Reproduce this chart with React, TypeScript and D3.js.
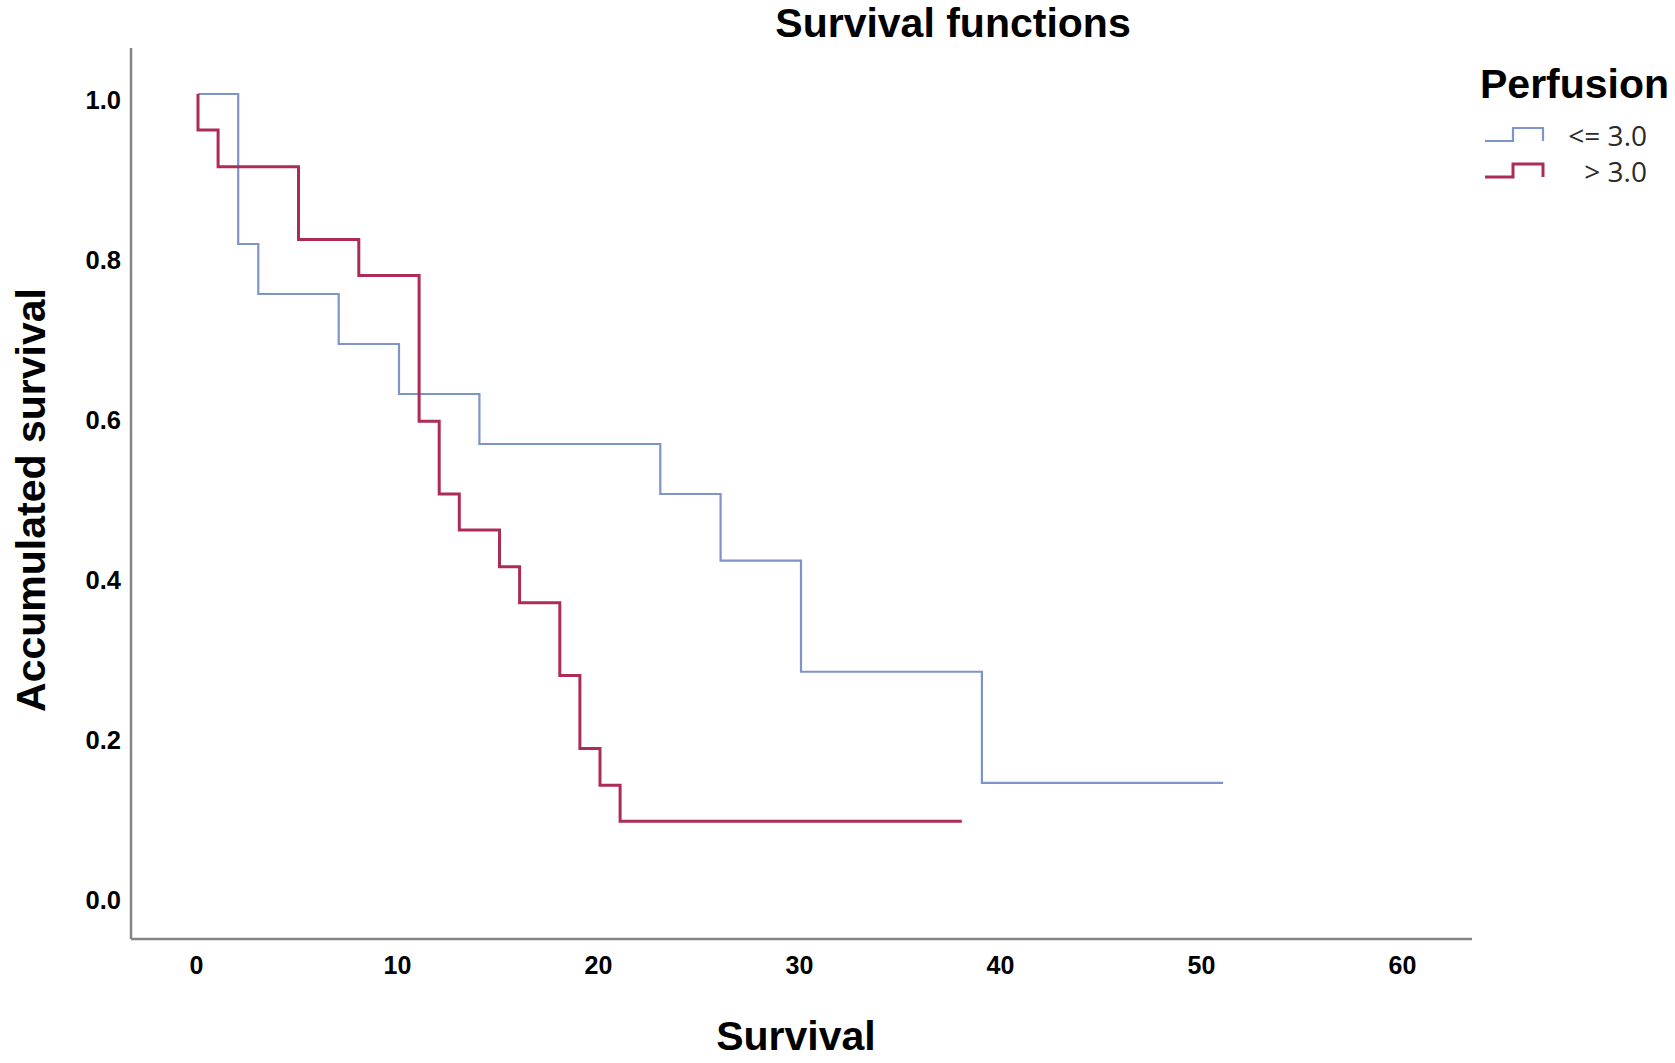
import { useEffect, useRef } from "react";
import * as d3 from "d3";

// Kaplan-Meier steps (time in months, survival proportion)
const lowTimes = [0, 2, 3, 7, 10, 14, 23, 26, 30, 39];
const lowSurvival = [1, 0.8125, 0.75, 0.6875, 0.625, 0.5625, 0.5, 0.4167, 0.2778, 0.1389];
const lowEnd = 51;

const highTimes = [0, 0, 1, 5, 8, 11, 12, 13, 15, 16, 18, 19, 20, 21];
const highSurvival = [1, 0.955, 0.909, 0.818, 0.773, 0.591, 0.5, 0.455, 0.409, 0.364, 0.273, 0.182, 0.136, 0.091];
const highEnd = 38;

const xTicks = [0, 10, 20, 30, 40, 50, 60];
const yTicks = [0, 0.2, 0.4, 0.6, 0.8, 1.0];

const groups = [
  { label: "<= 3.0", times: lowTimes, values: lowSurvival, end: lowEnd, color: "#7c94c9", width: 2.2 },
  { label: "> 3.0", times: highTimes, values: highSurvival, end: highEnd, color: "#ac2c57", width: 3 },
];

const W = 1675;
const H = 1063;
const FONT = "'Liberation Sans', Arial, Helvetica, sans-serif";

export default function App() {
  const svgRef = useRef<SVGSVGElement | null>(null);

  useEffect(() => {
    const svg = d3.select(svgRef.current).html("");

    const x = d3.scaleLinear().domain([0, 60]).range([198, 1404]);
    const y = d3.scaleLinear().domain([0, 1]).range([894, 94]);

    svg.append("rect").attr("width", W).attr("height", H).attr("fill", "white");

    // title
    svg
      .append("text")
      .attr("x", 953)
      .attr("y", 37)
      .attr("text-anchor", "middle")
      .attr("font-family", FONT)
      .attr("font-weight", "bold")
      .attr("font-size", 41)
      .text("Survival functions");

    // axis lines
    const axisColor = "#858585";
    svg
      .append("line")
      .attr("x1", 131)
      .attr("x2", 131)
      .attr("y1", 48)
      .attr("y2", 939)
      .attr("stroke", axisColor)
      .attr("stroke-width", 2.5);
    svg
      .append("line")
      .attr("x1", 131)
      .attr("x2", 1472)
      .attr("y1", 939)
      .attr("y2", 939)
      .attr("stroke", axisColor)
      .attr("stroke-width", 2.5);

    // y tick labels
    const yAxis = d3
      .axisLeft(y)
      .tickValues(yTicks)
      .tickSize(0)
      .tickPadding(0)
      .tickFormat(d3.format(".1f"));
    const gy = svg.append("g").attr("transform", "translate(121,0)").call(yAxis);
    gy.select(".domain").remove();
    gy.selectAll("text")
      .attr("dy", 14)
      .attr("x", 0)
      .attr("font-family", FONT)
      .attr("font-weight", "bold")
      .attr("font-size", 25.5)
      .attr("fill", "#000");

    // x tick labels
    const xAxis = d3.axisBottom(x).tickValues(xTicks).tickSize(0).tickPadding(0);
    const gx = svg.append("g").attr("transform", "translate(-2,974)").call(xAxis);
    gx.select(".domain").remove();
    gx.selectAll("text")
      .attr("y", 0)
      .attr("dy", 0)
      .attr("font-family", FONT)
      .attr("font-weight", "bold")
      .attr("font-size", 25)
      .attr("fill", "#000");

    // axis titles
    svg
      .append("text")
      .attr("x", 796)
      .attr("y", 1050)
      .attr("text-anchor", "middle")
      .attr("font-family", FONT)
      .attr("font-weight", "bold")
      .attr("font-size", 41)
      .text("Survival");
    svg
      .append("text")
      .attr("transform", "translate(45,500) rotate(-90)")
      .attr("text-anchor", "middle")
      .attr("font-family", FONT)
      .attr("font-weight", "bold")
      .attr("font-size", 41)
      .text("Accumulated survival");

    // survival curves
    const line = d3
      .line<[number, number]>()
      .x((d) => x(d[0]))
      .y((d) => y(d[1]))
      .curve(d3.curveStepAfter);

    groups.forEach((g) => {
      const pts: [number, number][] = g.times.map((t, i) => [t, g.values[i]]);
      pts.push([g.end, g.values[g.values.length - 1]]);
      svg
        .append("path")
        .attr("d", line(pts))
        .attr("fill", "none")
        .attr("stroke", g.color)
        .attr("stroke-width", g.width)
        .attr("stroke-linejoin", "miter");
    });

    // legend
    svg
      .append("text")
      .attr("x", 1480)
      .attr("y", 98)
      .attr("font-family", FONT)
      .attr("font-weight", "bold")
      .attr("font-size", 41)
      .text("Perfusion");

    const legendRows = [141, 177];
    groups.forEach((g, i) => {
      const base = legendRows[i];
      svg
        .append("path")
        .attr("d", `M1485,${base} H1513 V${base - 13} H1543 V${base}`)
        .attr("fill", "none")
        .attr("stroke", g.color)
        .attr("stroke-width", g.width);
      svg
        .append("text")
        .attr("x", 1647)
        .attr("y", base + 5)
        .attr("text-anchor", "end")
        .attr("font-family", "'Open Sans', 'Noto Sans', sans-serif")
        .attr("font-size", 28)
        .attr("fill", "#2a2a2a")
        .text(g.label);
    });
  }, []);

  return (
    <svg
      ref={svgRef}
      width={W}
      height={H}
      style={{ position: "absolute", left: 0, top: 0, background: "white" }}
    />
  );
}
